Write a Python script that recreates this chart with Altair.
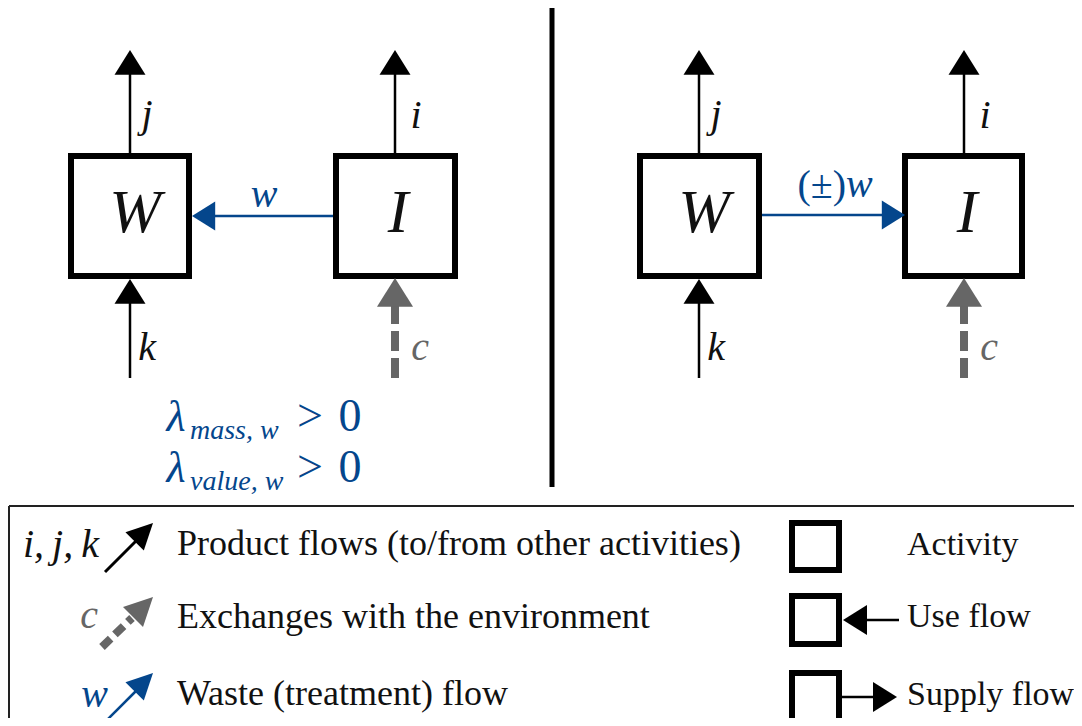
import altair as alt
import pandas as pd

# ------------------------------------------------------------------ data
# activity boxes of the two diagrams (left: W, I ; right: W, I)
BOX_X0 = [71, 336, 640, 905]
BOX_X1 = [189, 455, 759, 1022]
BOX_Y0 = [156, 156, 156, 156]
BOX_Y1 = [276, 276, 276, 276]
BOX_LABEL = ["W", "I", "W", "I"]
BOX_LABEL_X = [135, 398, 704, 967]
BOX_LABEL_Y = [232, 232, 232, 232]

# legend squares (Activity, Use flow, Supply flow)
LEG_BOX_X0 = [792, 792, 792]
LEG_BOX_X1 = [839, 839, 839]
LEG_BOX_Y0 = [523, 596, 673]
LEG_BOX_Y1 = [570, 644, 722]

# product flows (black): shafts
PROD_X = [130, 395, 130, 699, 964, 699]
PROD_Y = [153, 155, 378, 153, 153, 378]
PROD_X2 = [130, 395, 130, 699, 964, 699]
PROD_Y2 = [74, 74, 302, 74, 74, 302]
# product flow heads (tip positions)
PROD_HEAD_X = [130, 395, 130, 699, 964, 699]
PROD_HEAD_Y = [50, 50, 279, 50, 50, 279]
PROD_LABEL = ["j", "i", "k", "j", "i", "k"]
PROD_LABEL_X = [147, 416, 147, 716, 985, 716]
PROD_LABEL_Y = [127, 128, 360, 127, 128, 360]

# environment exchanges (grey, dashed)
ENV_X = [395, 964]
ENV_Y = [378, 378]
ENV_Y2 = [306, 306]
ENV_HEAD_Y = [278, 278]
ENV_LABEL_X = [420, 989]
ENV_LABEL_Y = [360, 360]

# waste flows (blue)
WASTE_X = [333, 762]
WASTE_X2 = [212, 884]
WASTE_Y = [216, 215]
WASTE_HEAD_X = [192, 905]
WASTE_HEAD_ANGLE = [270, 90]

# blue labels of the waste flows
W_LABEL_X = [264, 846]
W_LABEL_Y = [207, 197]
W_LABEL = ["w", "w"]
PM_LABEL = ["(\u00b1)"]
PM_X = [846]
PM_Y = [198]

# lambda conditions
LAM_Y = [431, 482]
LAM_SUB = ["mass, w", "value, w"]
LAM_SUB_Y = [439, 490]
LAM_REL = [">", ">"]
LAM_VAL = ["0", "0"]

# legend
LEG_TEXT = ["Product flows (to/from other activities)",
            "Exchanges with the environment",
            "Waste (treatment) flow"]
LEG_TEXT_Y = [555, 628, 705]
LEG_RIGHT_TEXT = ["Activity", "Use flow", "Supply flow"]
LEG_RIGHT_Y = [555, 627, 705]
LEG_SYM = ["i,\u2009j,\u2009k", "c", "w"]
LEG_SYM_X = [99, 98, 108]
LEG_SYM_Y = [557, 628, 707]
LEG_ARROW_X = [105, 102, 105]
LEG_ARROW_Y = [572, 647, 722]
LEG_ARROW_X2 = [137, 132, 137]
LEG_ARROW_Y2 = [540, 618, 690]
LEG_HEAD_X = [153, 153, 153]
LEG_HEAD_Y = [523, 597, 673]

USE_X = [899]
USE_X2 = [866]
USE_Y = [620]
USE_HEAD_X = [843]
SUP_X = [842]
SUP_X2 = [874]
SUP_Y = [697]
SUP_HEAD_X = [897]

FRAME_X = [9, 9]
FRAME_Y = [506, 506]
FRAME_X2 = [1082, 9]
FRAME_Y2 = [506, 726]

SEP_X = [552]
SEP_Y = [5]
SEP_Y2 = [487]

# ------------------------------------------------------------------ styles
BLUE = "#04468c"
GREY = "#666666"
FONT = "Liberation Serif"
HEAD = "M0,0L1,1.6L-1,1.6Z"     # arrow head, tip at the anchor, pointing up
HEAD2 = "M0,0L1,2L-1,2Z"

XS = alt.Scale(domain=[8, 1074], nice=False, zero=False)
YS = alt.Scale(domain=[8, 718], nice=False, zero=False, reverse=True)


def xy():
    return dict(x=alt.X("x:Q", scale=XS, axis=None),
                y=alt.Y("y:Q", scale=YS, axis=None))


def rules(df, **mk):
    return alt.Chart(df).mark_rule(**mk).encode(**xy(), x2="x2:Q", y2="y2:Q")


def rects(df, **mk):
    return alt.Chart(df).mark_rect(**mk).encode(**xy(), x2="x2:Q", y2="y2:Q")


def heads(df, **mk):
    return alt.Chart(df).mark_point(filled=True, opacity=1, strokeWidth=0, **mk).encode(**xy())


def texts(df, **mk):
    return alt.Chart(df).mark_text(font=FONT, baseline="alphabetic", **mk).encode(**xy(), text="t:N")


layers = []

# separator and legend frame
layers.append(rules(pd.DataFrame({"x": SEP_X, "y": SEP_Y, "x2": SEP_X, "y2": SEP_Y2}),
                    color="black", strokeWidth=5))
layers.append(rules(pd.DataFrame({"x": FRAME_X, "y": FRAME_Y, "x2": FRAME_X2, "y2": FRAME_Y2}),
                    color="#222222", strokeWidth=2))

# shafts
layers.append(rules(pd.DataFrame({"x": PROD_X, "y": PROD_Y, "x2": PROD_X2, "y2": PROD_Y2}),
                    color="black", strokeWidth=2.5))
layers.append(rules(pd.DataFrame({"x": ENV_X, "y": ENV_Y, "x2": ENV_X, "y2": ENV_Y2}),
                    color=GREY, strokeWidth=8, strokeDash=[20, 7]))
layers.append(rules(pd.DataFrame({"x": WASTE_X, "y": WASTE_Y, "x2": WASTE_X2, "y2": WASTE_Y}),
                    color=BLUE, strokeWidth=2.5))

# boxes
layers.append(rects(pd.DataFrame({"x": BOX_X0, "x2": BOX_X1, "y": BOX_Y0, "y2": BOX_Y1}),
                    fill="white", stroke="black", strokeWidth=6))
layers.append(rects(pd.DataFrame({"x": LEG_BOX_X0, "x2": LEG_BOX_X1, "y": LEG_BOX_Y0, "y2": LEG_BOX_Y1}),
                    fill="white", stroke="black", strokeWidth=6))

# heads
layers.append(heads(pd.DataFrame({"x": PROD_HEAD_X, "y": PROD_HEAD_Y}),
                    shape=HEAD, size=961, color="black"))
layers.append(heads(pd.DataFrame({"x": ENV_X, "y": ENV_HEAD_Y}),
                    shape=HEAD, size=1300, color=GREY))
layers.append(heads(pd.DataFrame({"x": WASTE_HEAD_X[:1], "y": WASTE_Y[:1]}),
                    shape=HEAD, size=841, color=BLUE, angle=WASTE_HEAD_ANGLE[0]))
layers.append(heads(pd.DataFrame({"x": WASTE_HEAD_X[1:], "y": WASTE_Y[1:]}),
                    shape=HEAD, size=841, color=BLUE, angle=WASTE_HEAD_ANGLE[1]))

# legend arrows
leg_cols = ["black", GREY, BLUE]
leg_w = [3, 8, 2.5]
leg_size = [676, 800, 676]
for k in range(3):
    mk = dict(color=leg_cols[k], strokeWidth=leg_w[k])
    if k == 1:
        mk["strokeDash"] = [12, 6]
    layers.append(rules(pd.DataFrame({"x": LEG_ARROW_X[k:k + 1], "y": LEG_ARROW_Y[k:k + 1],
                                      "x2": LEG_ARROW_X2[k:k + 1], "y2": LEG_ARROW_Y2[k:k + 1]}), **mk))
    layers.append(heads(pd.DataFrame({"x": LEG_HEAD_X[k:k + 1], "y": LEG_HEAD_Y[k:k + 1]}),
                        shape=HEAD2, size=leg_size[k], color=leg_cols[k], angle=45))

layers.append(rules(pd.DataFrame({"x": USE_X, "y": USE_Y, "x2": USE_X2, "y2": USE_Y}),
                    color="black", strokeWidth=2.5))
layers.append(heads(pd.DataFrame({"x": USE_HEAD_X, "y": USE_Y}),
                    shape=HEAD, size=900, color="black", angle=270))
layers.append(rules(pd.DataFrame({"x": SUP_X, "y": SUP_Y, "x2": SUP_X2, "y2": SUP_Y}),
                    color="black", strokeWidth=2.5))
layers.append(heads(pd.DataFrame({"x": SUP_HEAD_X, "y": SUP_Y}),
                    shape=HEAD, size=900, color="black", angle=90))

# texts in the diagrams
layers.append(texts(pd.DataFrame({"x": BOX_LABEL_X, "y": BOX_LABEL_Y, "t": BOX_LABEL}),
                    fontSize=62, fontStyle="italic", color="#111111", align="center"))
layers.append(texts(pd.DataFrame({"x": PROD_LABEL_X, "y": PROD_LABEL_Y, "t": PROD_LABEL}),
                    fontSize=40, fontStyle="italic", color="#111111", align="center"))
layers.append(texts(pd.DataFrame({"x": ENV_LABEL_X, "y": ENV_LABEL_Y, "t": ["c", "c"]}),
                    fontSize=40, fontStyle="italic", color=GREY, align="center"))
layers.append(texts(pd.DataFrame({"x": W_LABEL_X[:1], "y": W_LABEL_Y[:1], "t": W_LABEL[:1]}),
                    fontSize=40, fontStyle="italic", color=BLUE, align="center"))
layers.append(texts(pd.DataFrame({"x": W_LABEL_X[1:], "y": W_LABEL_Y[1:], "t": W_LABEL[1:]}),
                    fontSize=40, fontStyle="italic", color=BLUE, align="left"))
layers.append(texts(pd.DataFrame({"x": PM_X, "y": PM_Y, "t": PM_LABEL}),
                    fontSize=40, color=BLUE, align="right"))

# lambda conditions
layers.append(texts(pd.DataFrame({"x": [176, 176], "y": LAM_Y, "t": ["\u03bb", "\u03bb"]}),
                    fontSize=44, fontStyle="italic", color=BLUE, align="center"))
layers.append(texts(pd.DataFrame({"x": [190, 190], "y": LAM_SUB_Y, "t": LAM_SUB}),
                    fontSize=28, fontStyle="italic", color=BLUE, align="left"))
layers.append(texts(pd.DataFrame({"x": [310, 310], "y": LAM_Y, "t": LAM_REL}),
                    fontSize=46, color=BLUE, align="center"))
layers.append(texts(pd.DataFrame({"x": [350, 350], "y": LAM_Y, "t": LAM_VAL}),
                    fontSize=46, color=BLUE, align="center"))

# legend texts
layers.append(texts(pd.DataFrame({"x": [177] * 3, "y": LEG_TEXT_Y, "t": LEG_TEXT}),
                    fontSize=36, color="#111111", align="left"))
layers.append(texts(pd.DataFrame({"x": [907] * 3, "y": LEG_RIGHT_Y, "t": LEG_RIGHT_TEXT}),
                    fontSize=34, color="#111111", align="left"))
sym_cols = ["#111111", GREY, BLUE]
for k in range(3):
    layers.append(texts(pd.DataFrame({"x": LEG_SYM_X[k:k + 1], "y": LEG_SYM_Y[k:k + 1],
                                      "t": LEG_SYM[k:k + 1]}),
                        fontSize=40, fontStyle="italic", color=sym_cols[k], align="right"))

chart = (alt.layer(*layers)
         .properties(width=1066, height=710, autosize="none", padding=0)
         .configure_view(stroke=None))

chart.save("out.html", embed_options={"renderer": "svg", "actions": False})
